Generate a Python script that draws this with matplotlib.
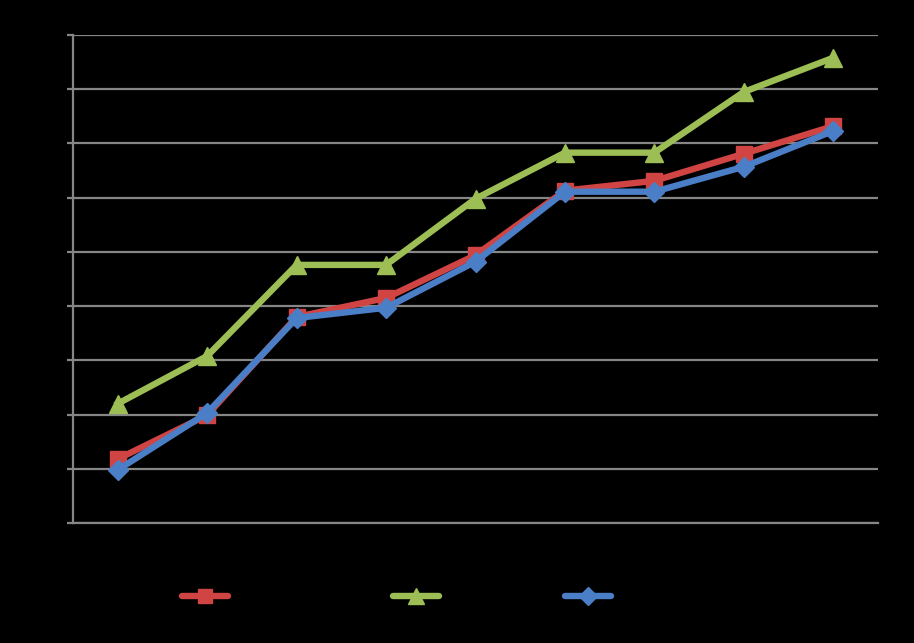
import matplotlib.pyplot as plt
import numpy as np
from matplotlib.lines import Line2D

# category positions (labels not legible in the reference)
cats = np.arange(9)

red = [1.18, 1.99, 3.80, 4.15, 4.94, 6.13, 6.31, 6.81, 7.32]
green = [2.20, 3.08, 4.76, 4.76, 5.98, 6.83, 6.83, 7.95, 8.58]
blue = [0.98, 2.03, 3.78, 3.97, 4.82, 6.11, 6.11, 6.57, 7.23]

c_red = "#D04444"
c_green = "#9CBE55"
c_blue = "#4A7EC6"
c_grid = "#868686"

fig = plt.figure(figsize=(9.14, 6.43), dpi=100, facecolor="black")
ax = fig.add_axes([0.0799, 0.1866, 0.8807, 0.759])
ax.set_facecolor("black")

lw = 4.6
ax.plot(cats, red, "-s", color=c_red, lw=lw, ms=11, mec=c_red, zorder=3)
ax.plot(cats, green, "-^", color=c_green, lw=lw, ms=13, mec=c_green, zorder=3)
ax.plot(cats, blue, "-D", color=c_blue, lw=lw, ms=10.5, mec=c_blue, zorder=4)

ax.set_xlim(-0.5, 8.5)
ax.set_ylim(0, 9)
ax.set_yticks(np.arange(0, 10))
ax.yaxis.grid(True, color=c_grid, lw=1.6)
ax.set_axisbelow(True)
ax.tick_params(axis="y", length=4.5, width=1.6, color=c_grid, labelleft=False)
ax.tick_params(axis="x", length=0, labelbottom=False)
for s in ["top", "right"]:
    ax.spines[s].set_visible(False)
for s in ["left", "bottom"]:
    ax.spines[s].set_color(c_grid)
    ax.spines[s].set_linewidth(1.6)

# legend keys (legend text is black on black in the reference)
keys = [(c_red, "s", 10, 0.224), (c_green, "^", 11, 0.455), (c_blue, "D", 9, 0.643)]
for col, m, ms, xpos in keys:
    h = Line2D([], [], color=col, lw=lw, marker=m, ms=ms, mec=col,
               solid_capstyle="round")
    fig.legend(handles=[h], labels=[""], loc="center", bbox_to_anchor=(xpos, 0.071),
               frameon=False, handlelength=3.3, handletextpad=0)

fig.savefig("out.png", facecolor="black")
